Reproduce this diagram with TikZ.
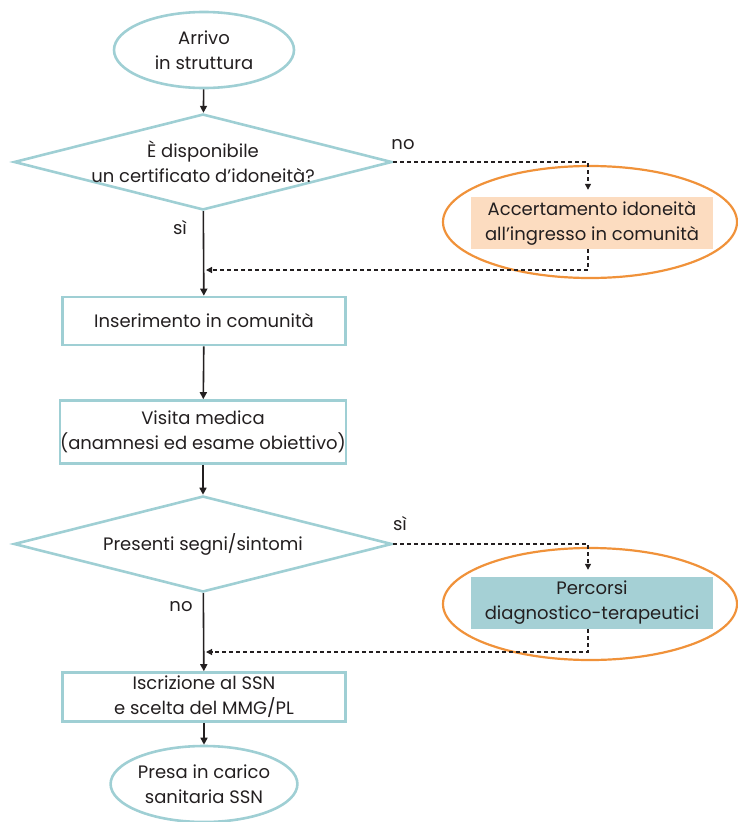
\documentclass[tikz,border=0pt]{standalone}
\usepackage{fontspec}
\setmainfont{Poppins}
\usetikzlibrary{shapes.geometric,arrows.meta}

\definecolor{tealline}{HTML}{9FCFD4}
\definecolor{orangeline}{HTML}{F0923A}
\definecolor{peach}{HTML}{FCDCC0}
\definecolor{tealfill}{HTML}{A5D0D5}
\definecolor{textgray}{HTML}{231F20}

\begin{document}
\begin{tikzpicture}[x=1pt, y=-1pt,
    font=\fontsize{18}{25}\selectfont, text=textgray,
    terminal/.style={ellipse, draw=tealline, line width=2.6pt, minimum width=180pt, minimum height=76pt, inner sep=0pt, align=center},
    decision/.style={diamond, draw=tealline, line width=2.6pt, minimum width=378pt, minimum height=96pt, inner sep=0pt},
    process/.style={rectangle, draw=tealline, line width=2.6pt, minimum width=283pt, inner sep=0pt, align=center},
    ring/.style={ellipse, draw=orangeline, line width=2.2pt, minimum width=294pt, minimum height=112pt},
    sidebox/.style={rectangle, minimum width=242pt, minimum height=52pt, inner sep=0pt, align=center},
    flow/.style={-{Triangle[length=7pt,width=7pt]}, line width=1.6pt, draw=textgray},
    dashflow/.style={-{Triangle[length=6pt,width=6pt]}, line width=1.2pt, dash pattern=on 4pt off 3pt, draw=textgray},
  ]

    \useasboundingbox (0, 0) rectangle (737, 822);

    \node[terminal] (arrivo) at (204, 50) {Arrivo\\in struttura};

    \node[decision] (q1) at (203, 162) {};
    \node[align=center] (q1text) at (q1) {È disponibile\\un certificato d’idoneità?};

    \node[ring] (ring1) at (590, 222) {};
    \node[sidebox, fill=peach] (accert) at (592, 223) {Accertamento idoneità\\all’ingresso in comunità};

    \node[process, minimum height=48pt] (inser) at (204, 321) {Inserimento in comunità};
    \node[process, minimum height=63pt] (visita) at (203, 432) {Visita medica\\(anamnesi ed esame obiettivo)};

    \node[decision] (q2) at (203, 544) {};
    \node (q2text) at (q2) {Presenti segni/sintomi};

    \node[ring] (ring2) at (590, 604) {};
    \node[sidebox, fill=tealfill] (percorsi) at (592, 603) {Percorsi\\diagnostico-terapeutici};

    \node[process, minimum height=49pt] (iscr) at (204, 697) {Iscrizione al SSN\\e scelta del MMG/PL};
    \node[terminal] (presa) at (204, 784) {Presa in carico\\sanitaria SSN};

    \coordinate (join1) at (204, 270);
    \coordinate (join2) at (204, 652);

    \node (no1) at (403, 145) {no};
    \node (si1) at (180, 228) {sì};
    \node (si2) at (400, 524) {sì};
    \node (no2) at (181, 607) {no};

    \draw[flow] (arrivo) -- (q1);
    \draw[flow] (q1) -- (inser);
    \draw[flow] (inser) -- (visita);
    \draw[flow] (visita) -- (q2);
    \draw[flow] (q2) -- (iscr);
    \draw[flow] (iscr) -- (presa);

    \draw[dashflow, shorten >=7pt] (q1.east) -| ([xshift=-4pt]accert.north);
    \draw[dashflow, shorten >=2pt] ([xshift=-4pt]accert.south) |- (join1);
    \draw[dashflow, shorten >=7pt] (q2.east) -| ([xshift=-4pt]percorsi.north);
    \draw[dashflow, shorten >=2pt] ([xshift=-4pt]percorsi.south) |- (join2);

\end{tikzpicture}
\end{document}
